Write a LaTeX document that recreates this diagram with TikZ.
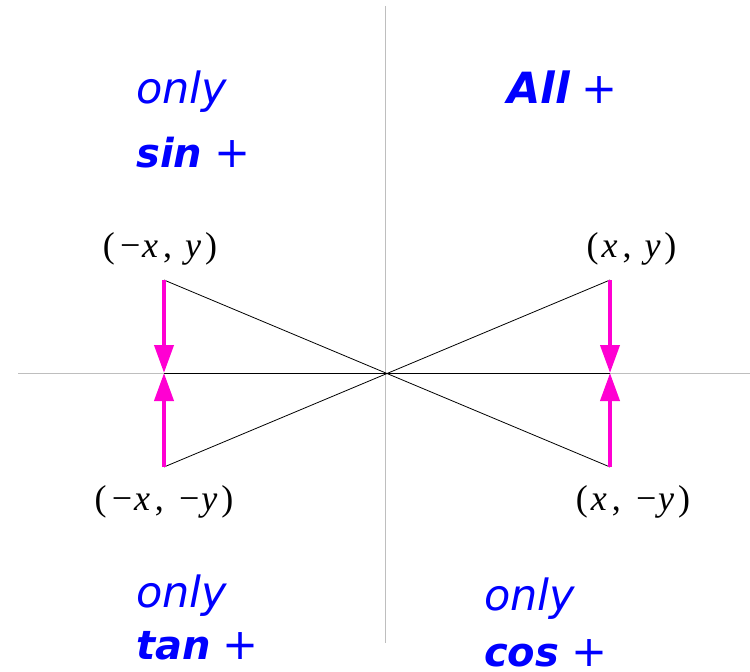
\documentclass[tikz,border=0pt]{standalone}
\usepackage{fontspec}
\usetikzlibrary{arrows.meta}
\newfontfamily\quadfont{DejaVu Sans}
\newfontfamily\labfont{Liberation Serif}
\definecolor{quadblue}{RGB}{0,0,255}
\definecolor{arrmag}{RGB}{255,0,210}
\definecolor{axisgray}{RGB}{190,190,190}
\tikzset{
  axisline/.style={draw=axisgray, line width=1bp},
  thinline/.style={draw=black, line width=0.8bp},
  magarrow/.style={draw=arrmag, line width=4bp, -{Triangle[width=19bp,length=28bp]}},
  quadtext/.style={anchor=base west, inner sep=0pt, text=quadblue, font=\quadfont\fontsize{43bp}{50bp}\selectfont\itshape},
  pointlabel/.style={anchor=base, inner sep=0pt, font=\labfont\fontsize{36bp}{42bp}\selectfont}
}
\newcommand{\lbl}[2]{(\hspace{3bp}\textit{#1}\hspace{5bp},\hspace{13bp}\textit{#2}\hspace{4bp})}
\newcommand{\bsign}[1]{{\fontsize{40bp}{48bp}\selectfont\bfseries #1}\hspace{12bp}{\upshape +}}
\begin{document}
\begin{tikzpicture}[x=1bp,y=-1bp]
\useasboundingbox (0,0) rectangle (750,672);
% axes
\coordinate (vtop) at (385,6);
\coordinate (vbot) at (385,643);
\coordinate (hleft) at (18,373);
\coordinate (hright) at (750,373);
\draw[axisline] (vtop) -- (vbot);
\draw[axisline] (hleft) -- (hright);
% points
\coordinate (P1) at (610,280);
\coordinate (P2) at (164,280);
\coordinate (P3) at (164,467);
\coordinate (P4) at (610,467);
\coordinate (Q1) at (610,373);
\coordinate (Q2) at (164,373);
% black lines
\draw[thinline] (P2) -- (P4);
\draw[thinline] (P3) -- (P1);
\draw[thinline] (Q2) -- (Q1);
% magenta arrows
\draw[magarrow] (P1) -- (Q1);
\draw[magarrow] (P4) -- (Q1);
\draw[magarrow] (P2) -- (Q2);
\draw[magarrow] (P3) -- (Q2);
% point labels
\node[pointlabel] (L1) at (631.5,257) {\lbl{x}{y}};
\node[pointlabel] (L2) at (160,257) {\lbl{−x}{y}};
\node[pointlabel] (L3) at (164,510) {\lbl{−x}{−y}};
\node[pointlabel] (L4) at (633,510) {\lbl{x}{−y}};
% quadrant texts
\node[quadtext] (T1a) at (136,104) {only};
\node[quadtext] (T1b) at (136,167) {\bsign{sin}};
\node[quadtext] (T2) at (507,104) {{\bfseries All}\hspace{12bp}{\upshape +}};
\node[quadtext] (T3a) at (136,607) {only};
\node[quadtext] (T3b) at (136,659) {\bsign{tan}};
\node[quadtext] (T4a) at (484,610) {only};
\node[quadtext] (T4b) at (484,666) {\bsign{cos}};
\end{tikzpicture}
\end{document}
